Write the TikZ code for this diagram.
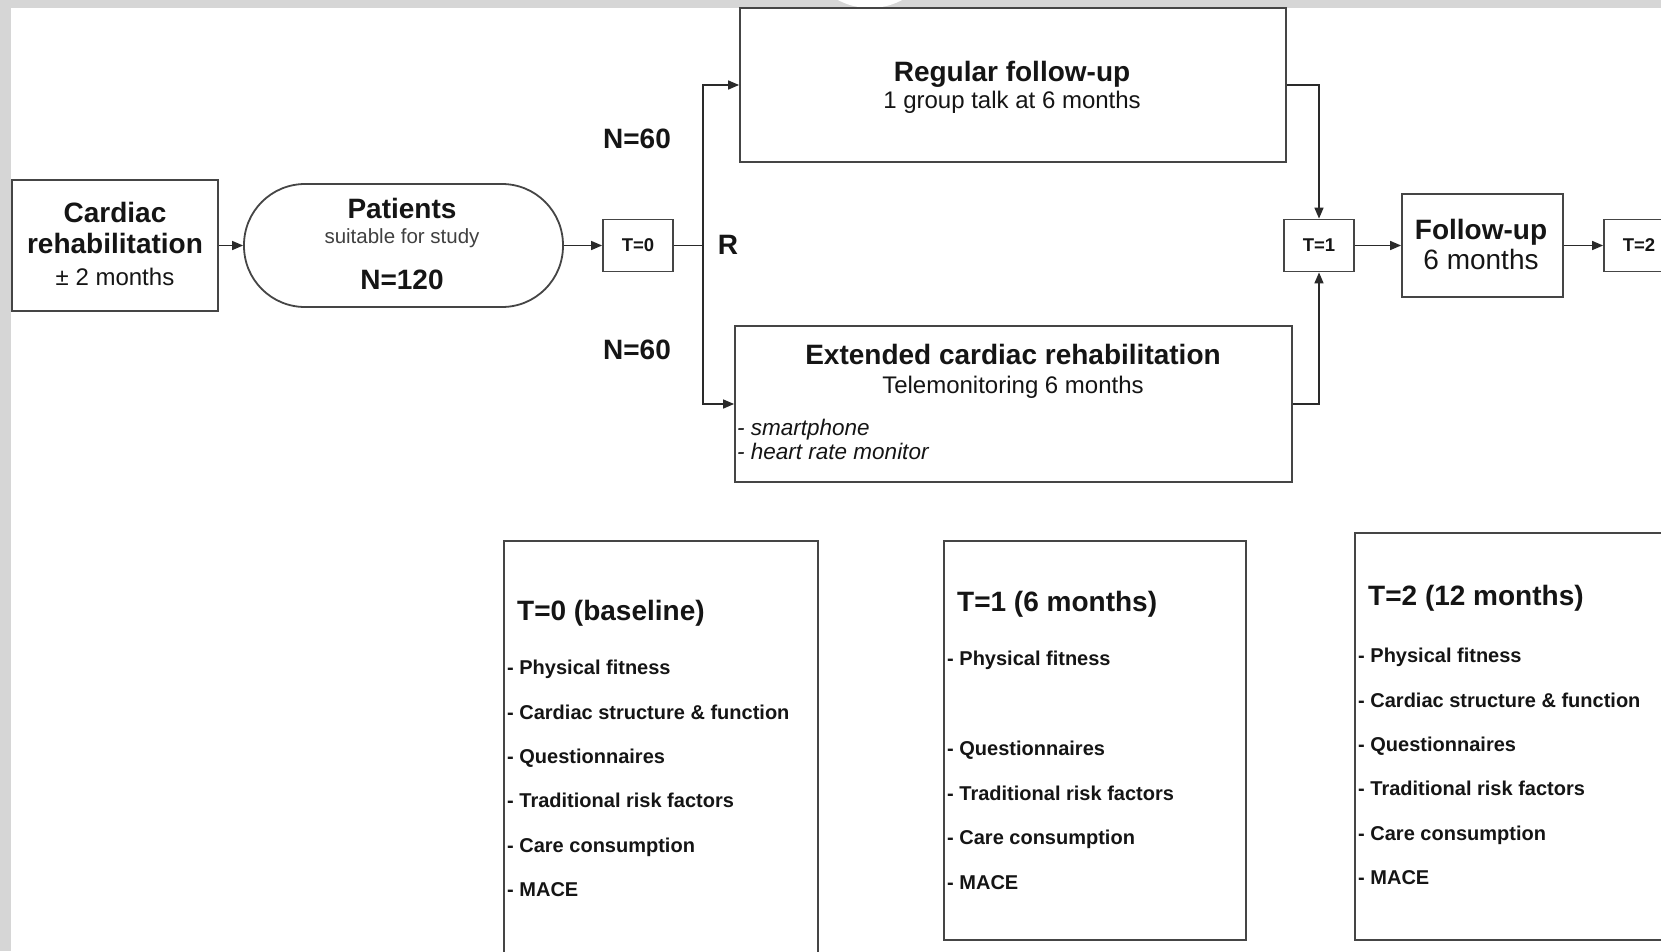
\documentclass[tikz,border=0pt]{standalone}
\usepackage{fontspec}
\setmainfont{Liberation Sans}
\usetikzlibrary{arrows.meta}
\definecolor{framec}{HTML}{D6D6D6}
\definecolor{boxc}{HTML}{454545}
\definecolor{linec}{HTML}{2A2A2A}
\definecolor{txt}{HTML}{151515}
\definecolor{subtxt}{HTML}{404040}
\newcommand\pxfont[1]{\fontsize{#1}{#1}\selectfont}
\begin{document}
\begin{tikzpicture}[x=1pt,y=-1pt,
  box/.style={draw=boxc, line width=1.8pt, inner sep=0pt, fill=white},
  tbox/.style={box, minimum width=70pt, minimum height=52pt, font=\pxfont{18.5}\bfseries, text=txt},
  ln/.style={draw=linec, line width=1.5pt},
  arr/.style={ln, -{Triangle[length=11pt,width=9pt]}},
  lbl/.style={inner sep=0pt, text=txt, anchor=mid},
  bigb/.style={lbl, yshift=-7pt, font=\pxfont{28}\bfseries},
  bigr/.style={lbl, yshift=-7pt, font=\pxfont{28}},
  medr/.style={lbl, yshift=-6pt, font=\pxfont{24}},
  smallg/.style={lbl, yshift=-4.5pt, text=subtxt, font=\pxfont{20.5}},
  ital/.style={inner sep=0pt, yshift=-5pt, text=txt, anchor=mid west, font=\pxfont{22.5}\itshape},
  ttl/.style={inner sep=0pt, yshift=-6pt, text=txt, anchor=mid west, font=\pxfont{28}\bfseries},
  item/.style={inner sep=0pt, yshift=-5pt, text=txt, anchor=mid west, font=\pxfont{20}\bfseries}
]
\useasboundingbox (0,0) rectangle (1661,951);
\clip (0,0) rectangle (1661,951);
\fill[white] (0,0) rectangle (1661,951);
% grey frame
\fill[framec] (0,0) rectangle (1661,8);
\fill[framec] (0,0) rectangle (11,951);
\fill[white] (870,-60) circle (68);

% top row
\node[box, minimum width=206pt, minimum height=131pt] (cr) at (115,245.5) {};
\node[bigb] (crt1) at (115,213) {Cardiac};
\node[bigb] (crt2) at (115,244) {rehabilitation};
\node[medr] (crt3) at (115,277) {± 2 months};

\node[box, rounded corners=61pt, minimum width=319pt, minimum height=123pt] (pt) at (403.5,245.5) {};
\node[bigb] (ptt1) at (402,209) {Patients};
\node[smallg] (ptt2) at (402,236) {suitable for study};
\node[bigb] (ptt3) at (402,280) {N=120};

\node[tbox] (t0) at (638,245.5) {T=0};
\coordinate (j) at (703,245.5);

\node[bigb] (n1) at (637,139) {N=60};
\node[bigb] (n2) at (637,350) {N=60};
\node[bigb] (r) at (728,245) {R};

\node[box, minimum width=546pt, minimum height=154pt] (reg) at (1013,85) {};
\node[bigb] (regt1) at (1012,72) {Regular follow-up};
\node[medr] (regt2) at (1012,100) {1 group talk at 6 months};

\node[box, minimum width=557pt, minimum height=156pt] (ext) at (1013.5,404) {};
\node[bigb] (extt1) at (1013,355) {Extended cardiac rehabilitation};
\node[medr] (extt2) at (1013,385) {Telemonitoring 6 months};
\node[ital] (extl1) at (737,428) {- smartphone};
\node[ital] (extl2) at (737,452) {- heart rate monitor};

\node[tbox] (t1) at (1319,245.5) {T=1};
\node[box, minimum width=161pt, minimum height=103pt] (fu) at (1482.5,245.5) {};
\node[bigb] (fut1) at (1481,230) {Follow-up};
\node[bigr] (fut2) at (1481,260) {6 months};
\node[tbox] (t2) at (1639,245.5) {T=2};

% connectors
\draw[arr] (cr.east) -- (pt.west);
\draw[arr] (pt.east) -- (t0.west);
\draw[ln] (t0.east) -- (j);
\draw[arr] (j) |- (reg.west);
\draw[arr] (j) |- (ext.west);
\draw[arr] (reg.east) -| (t1.north);
\draw[arr] (ext.east) -| (t1.south);
\draw[arr] (t1.east) -- (fu.west);
\draw[arr] (fu.east) -- (t2.west);

% bottom boxes
\node[box, minimum width=314pt, minimum height=470pt] (b0) at (661,776) {};
\node[ttl] (b0t) at (517,612) {T=0 (baseline)};
\foreach \t [count=\i from 0] in {Physical fitness, Cardiac structure \& function, Questionnaires, Traditional risk factors, Care consumption, MACE}
  \node[item] (b0i\i) at (507,667+44.4*\i) {- \t};

\node[box, minimum width=302pt, minimum height=399pt] (b1) at (1095,740.5) {};
\node[ttl] (b1t) at (957,603) {T=1 (6 months)};
\foreach \k/\t in {0/Physical fitness, 2/Questionnaires, 3/Traditional risk factors, 4/Care consumption, 5/MACE}
  \node[item] (b1i\k) at (947,658+44.8*\k) {- \t};

\node[box, minimum width=330pt, minimum height=407pt] (b2) at (1520,736.5) {};
\node[ttl] (b2t) at (1368,597) {T=2 (12 months)};
\foreach \t [count=\i from 0] in {Physical fitness, Cardiac structure \& function, Questionnaires, Traditional risk factors, Care consumption, MACE}
  \node[item] (b2i\i) at (1358,655+44.4*\i) {- \t};
\end{tikzpicture}
\end{document}
